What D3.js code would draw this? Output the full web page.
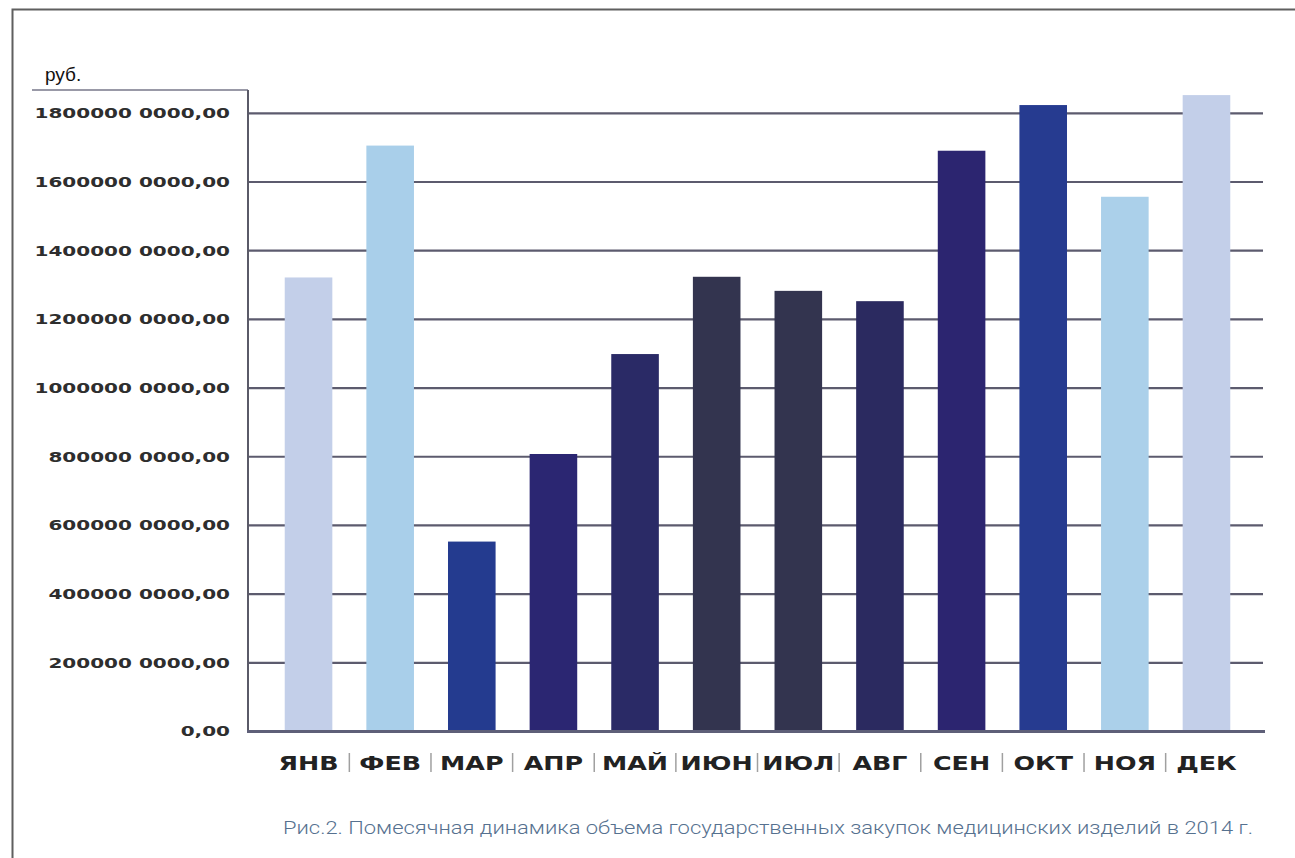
<!DOCTYPE html>
<html>
<head>
<meta charset="utf-8">
<script src="https://cdn.jsdelivr.net/npm/d3@7"></script>
<style>
  html, body { margin: 0; padding: 0; background: #fff; }
  svg { display: block; }
</style>
</head>
<body>
<svg id="chart" width="1295" height="858"></svg>
<script>
// Monthly volume of state procurement of medical devices, 2014 (million rubles)
const months = ["ЯНВ", "ФЕВ", "МАР", "АПР", "МАЙ", "ИЮН", "ИЮЛ", "АВГ", "СЕН", "ОКТ", "НОЯ", "ДЕК"];
const volumes = [13220, 17060, 5530, 8080, 10990, 13240, 12830, 12530, 16910, 18240, 15570, 18530];
const barColors = ["#c3cfe9", "#a9cfea", "#243b8f", "#2b2672", "#2a2a66", "#33344f", "#33344f", "#2b2a60", "#2c2570", "#263b90", "#abd0ea", "#c3cfe9"];
const tickValues = [0, 2000, 4000, 6000, 8000, 10000, 12000, 14000, 16000, 18000];
const tickLabels = ["0,00", "200000 0000,00", "400000 0000,00", "600000 0000,00", "800000 0000,00",
                    "1000000 0000,00", "1200000 0000,00", "1400000 0000,00", "1600000 0000,00", "1800000 0000,00"];
const unitLabel = "руб.";
const caption = "Рис.2. Помесячная динамика объема государственных закупок медицинских изделий в 2014 г.";

const svg = d3.select("#chart");

// outer frame
svg.append("rect")
  .attr("x", 12.5).attr("y", 9.5)
  .attr("width", 1300).attr("height", 900)
  .attr("fill", "none").attr("stroke", "#5f5f5f").attr("stroke-width", 2);

const plot = { left: 248, right: 1267, top: 90, bottom: 731.5 };

const x = d3.scaleBand()
  .domain(months)
  .range([plot.left, plot.right])
  .paddingInner(0.417)
  .paddingOuter(0.45);

const y = d3.scaleLinear()
  .domain([0, 18000])
  .range([plot.bottom, 113.3]);

// horizontal grid lines
svg.append("g")
  .selectAll("line")
  .data(tickValues.slice(1))
  .join("line")
  .attr("x1", plot.left).attr("x2", 1263)
  .attr("y1", d => y(d)).attr("y2", d => y(d))
  .attr("stroke", "#5c5b6e").attr("stroke-width", 2.2);

// bars
svg.append("g")
  .selectAll("rect")
  .data(volumes)
  .join("rect")
  .attr("x", (d, i) => x(months[i]))
  .attr("width", x.bandwidth())
  .attr("y", d => y(d))
  .attr("height", d => y(0) - y(d))
  .attr("fill", (d, i) => barColors[i]);

// axis frame: top cap, vertical axis, baseline
const frame = svg.append("g").attr("stroke", "#5a5a68").attr("fill", "none");
frame.append("line").attr("x1", 32).attr("x2", plot.left).attr("y1", plot.top).attr("y2", plot.top)
  .attr("stroke-width", 1.6).attr("stroke", "#77778a");
frame.append("line").attr("x1", plot.left).attr("x2", plot.left).attr("y1", plot.top).attr("y2", plot.bottom)
  .attr("stroke-width", 2);
frame.append("line").attr("x1", plot.left - 1).attr("x2", 1265).attr("y1", plot.bottom).attr("y2", plot.bottom)
  .attr("stroke-width", 3).attr("stroke", "#5e5f78");

// y tick labels
svg.append("g")
  .selectAll("text")
  .data(tickValues)
  .join("text")
  .attr("transform", d => `translate(230,${y(d)}) scale(1.38,1)`)
  .attr("text-anchor", "end")
  .attr("dominant-baseline", "central")
  .attr("font-family", "DejaVu Sans")
  .attr("font-weight", "bold")
  .attr("font-size", 14.5)
  .attr("fill", "#2e2e2e")
  .text((d, i) => tickLabels[i]);

// unit label
svg.append("text")
  .attr("x", 45).attr("y", 81)
  .attr("font-family", "Liberation Sans, Arial, sans-serif")
  .attr("font-size", 19)
  .attr("fill", "#111")
  .text(unitLabel);

// month labels
const labelY = 770;
svg.append("g")
  .selectAll("text")
  .data(months)
  .join("text")
  .attr("transform", d => `translate(${x(d) + x.bandwidth() / 2},${labelY}) scale(1.3,1)`)
  .attr("text-anchor", "middle")
  .attr("font-family", "DejaVu Sans")
  .attr("font-weight", "bold")
  .attr("font-size", 19.5)
  .attr("fill", "#222")
  .text(d => d);

// separators between month labels
svg.append("g")
  .selectAll("line")
  .data(months.slice(0, -1))
  .join("line")
  .attr("x1", d => x(d) + x.bandwidth() + x.step() * x.paddingInner() / 2)
  .attr("x2", d => x(d) + x.bandwidth() + x.step() * x.paddingInner() / 2)
  .attr("y1", 753).attr("y2", 772)
  .attr("stroke", "#a0a0a0").attr("stroke-width", 1.5);

// caption
svg.append("text")
  .attr("x", 283).attr("y", 834)
  .attr("font-family", "Roboto, sans-serif")
  .attr("font-weight", 300)
  .attr("font-size", 19)
  .attr("fill", "#56718f")
  .attr("textLength", 970)
  .attr("lengthAdjust", "spacingAndGlyphs")
  .text(caption);
</script>
</body>
</html>
